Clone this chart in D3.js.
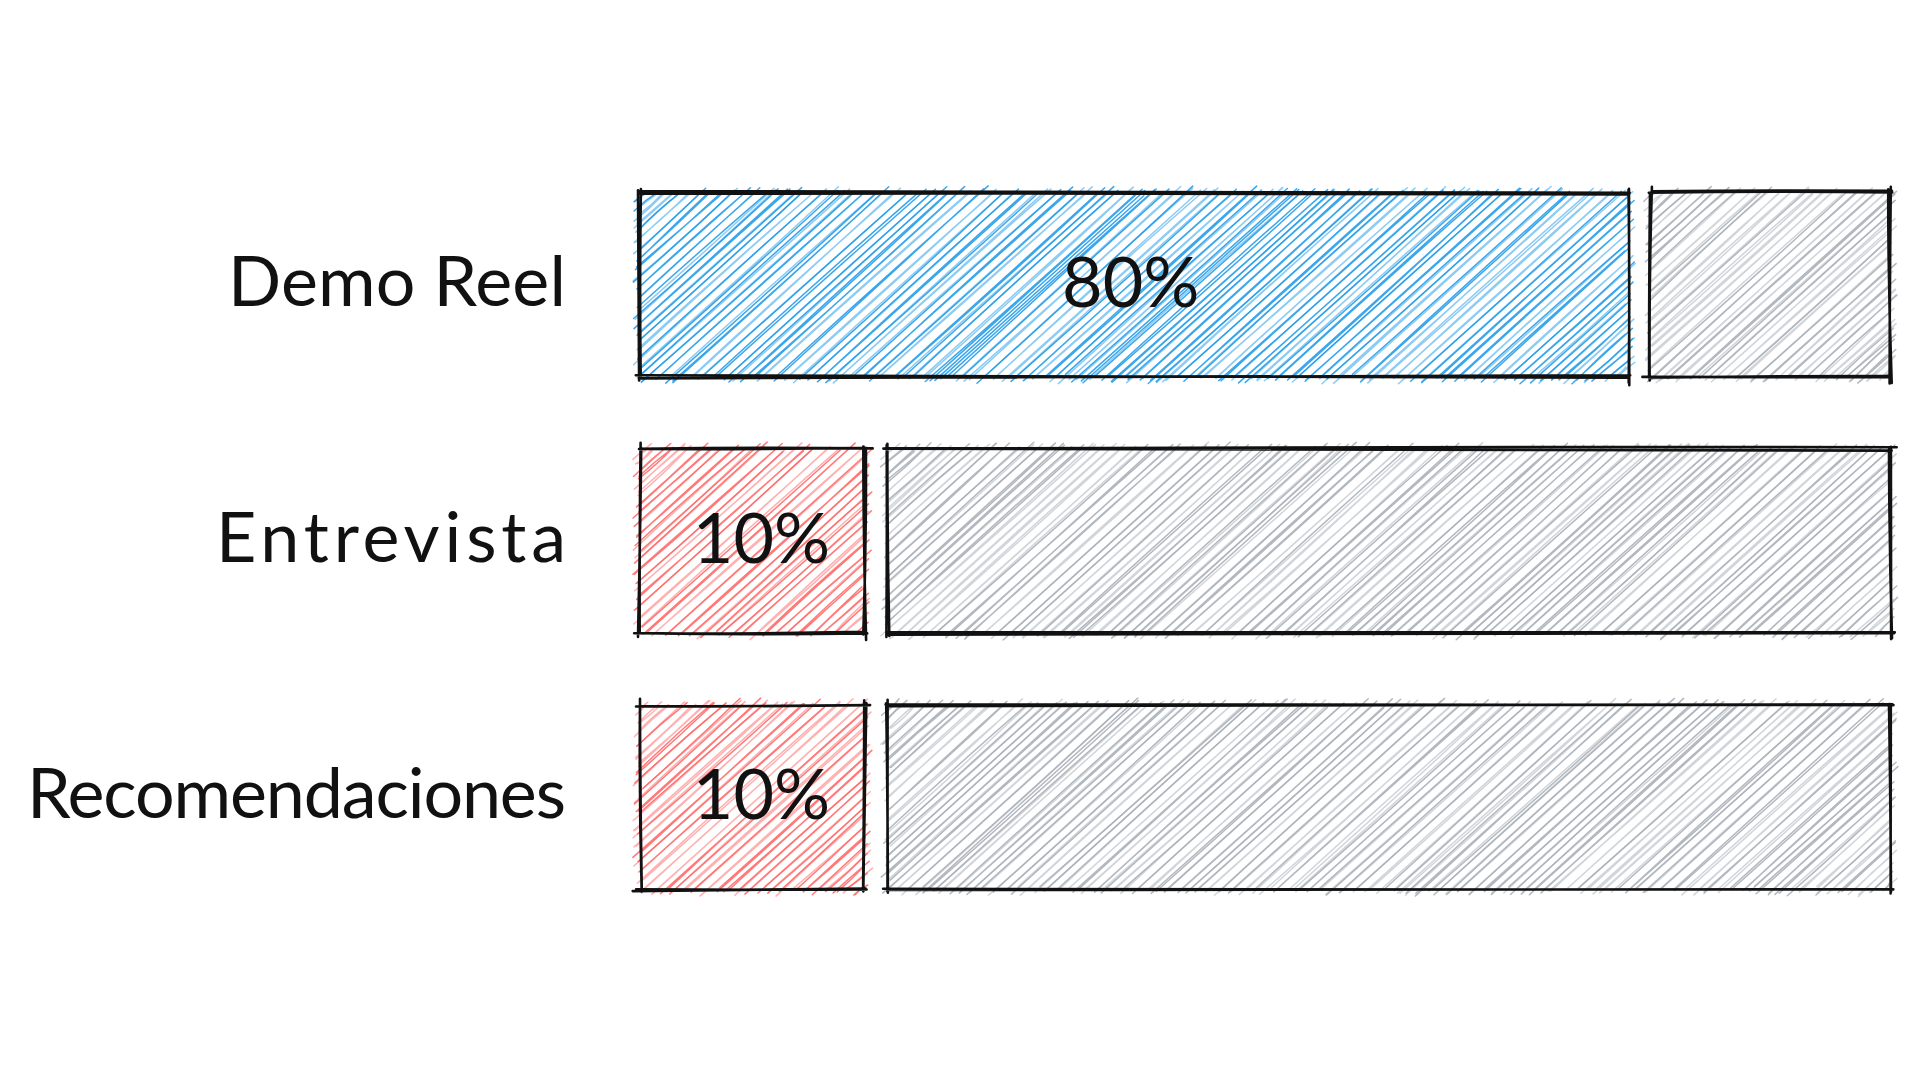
<!DOCTYPE html>
<html>
<head>
<meta charset="utf-8">
<script src="https://cdn.jsdelivr.net/npm/d3@7"></script>
<style>
  html, body { margin: 0; padding: 0; background: #ffffff; }
  svg { display: block; }
</style>
</head>
<body>
<svg id="chart" width="1920" height="1080"></svg>
<script>
// ---------- data ----------
const categories = ["Demo Reel", "Entrevista", "Recomendaciones"];
const highlightShare = [79, 18, 18];      // drawn width of coloured segment (share of 100)
const remainderShare = [21, 82, 82];      // drawn width of grey segment
const valueLabels = ["80%", "10%", "10%"];
const highlightKind = ["blue", "red", "red"];

// ---------- style ----------
const W = 1920, H = 1080;
const palette = { blue: "#1a97e8", red: "#ff6161", grey: "#a4acb4" };
const gaps = { blue: 6.4, red: 7.0, grey: 7.0 };
const labelWidths = [338, 350, 539];   // rendered text widths (layout)
const FONT = "Lato, 'Noto Sans', sans-serif";

// deterministic jitter for the hand-drawn look
function mulberry32(a) {
  return function () {
    a |= 0; a = a + 0x6D2B79F5 | 0;
    let t = Math.imul(a ^ a >>> 15, 1 | a);
    t = t + Math.imul(t ^ t >>> 7, 61 | t) ^ t;
    return ((t ^ t >>> 14) >>> 0) / 4294967296;
  };
}
const rnd = mulberry32(20240611);
const rr = (a, b) => a + (b - a) * rnd();

const svg = d3.select("#chart");

const y = d3.scaleBand()
  .domain(categories)
  .range([157, 925])
  .paddingInner(0.28)
  .paddingOuter(0.14);

const x = d3.scaleLinear().domain([0, 100]).range([640, 1890]);
const segGap = 23;

function sketchLine(x1, y1, x2, y2, j, bowAmt) {
  const ax = x1 + rr(-j, j), ay = y1 + rr(-j, j);
  const bx = x2 + rr(-j, j), by = y2 + rr(-j, j);
  const len = Math.hypot(bx - ax, by - ay) || 1;
  const nx = -(by - ay) / len, ny = (bx - ax) / len;
  const bow = rr(-bowAmt, bowAmt);
  const mx = (ax + bx) / 2 + nx * bow, my = (ay + by) / 2 + ny * bow;
  return `M${ax.toFixed(1)},${ay.toFixed(1)}Q${mx.toFixed(1)},${my.toFixed(1)} ${bx.toFixed(1)},${by.toFixed(1)}`;
}

function hachure(g, x0, y0, x1, y1, color, gap) {
  const th = 42 * Math.PI / 180;
  const d = [Math.cos(th), -Math.sin(th)];
  const n = [Math.sin(th), Math.cos(th)];
  const corners = [[x0, y0], [x1, y0], [x0, y1], [x1, y1]];
  const cs = corners.map(p => p[0] * n[0] + p[1] * n[1]);
  const cmin = d3.min(cs), cmax = d3.max(cs);
  const dark = [], light = [];
  for (let c = cmin + gap * 0.5; c < cmax; c += gap * rr(0.7, 1.3)) {
    const px = c * n[0], py = c * n[1];
    let tmin = -Infinity, tmax = Infinity;
    let ta = (x0 - px) / d[0], tb = (x1 - px) / d[0];
    tmin = Math.max(tmin, Math.min(ta, tb)); tmax = Math.min(tmax, Math.max(ta, tb));
    ta = (y0 - py) / d[1]; tb = (y1 - py) / d[1];
    tmin = Math.max(tmin, Math.min(ta, tb)); tmax = Math.min(tmax, Math.max(ta, tb));
    if (tmax - tmin < 2) continue;
    for (let k = 0; k < 2; k++) {
      const t0 = tmin - rr(-3, 9), t1 = tmax + rr(-3, 9);
      const ax = px + d[0] * t0, ay = py + d[1] * t0;
      const bx = px + d[0] * t1, by = py + d[1] * t1;
      (rnd() < 0.5 ? dark : light).push(sketchLine(ax, ay, bx, by, 1.4, 2));
    }
  }
  [[dark, 0.85], [light, 0.5]].forEach(([p, op]) => {
    g.append("path")
      .attr("d", p.join(""))
      .attr("fill", "none")
      .attr("stroke", color)
      .attr("stroke-width", 1.5)
      .attr("stroke-opacity", op)
      .attr("stroke-linecap", "round");
  });
}

function outline(g, x0, y0, x1, y1) {
  const edges = [[x0, y0, x1, y0], [x1, y0, x1, y1], [x1, y1, x0, y1], [x0, y1, x0, y0]];
  const paths = [];
  edges.forEach(e => {
    for (let k = 0; k < 2; k++) {
      const over = rr(0, 7);
      const len = Math.hypot(e[2] - e[0], e[3] - e[1]);
      const ux = (e[2] - e[0]) / len, uy = (e[3] - e[1]) / len;
      paths.push(sketchLine(e[0] - ux * rr(0, 4), e[1] - uy * rr(0, 4),
        e[2] + ux * over, e[3] + uy * over, 2.0, 2.2));
    }
  });
  g.append("path")
    .attr("d", paths.join(""))
    .attr("fill", "none")
    .attr("stroke", "#111")
    .attr("stroke-width", 2.6)
    .attr("stroke-linecap", "round");
}

function sketchRect(x0, y0, x1, y1, kind) {
  const g = svg.append("g");
  hachure(g, x0, y0, x1, y1, palette[kind], gaps[kind]);
  outline(g, x0, y0, x1, y1);
}

// bars
categories.forEach((cat, i) => {
  const top = y(cat), bot = y(cat) + y.bandwidth();
  const a0 = x(0), a1 = x(highlightShare[i]);
  const b0 = x(highlightShare[i]) + segGap, b1 = x(highlightShare[i] + remainderShare[i]);
  sketchRect(a0, top, a1, bot, highlightKind[i]);
  sketchRect(b0, top, b1, bot, "grey");
});

// category labels
const fs = 70;
svg.append("g").selectAll("text").data(categories).join("text")
  .attr("x", 566)
  .attr("y", d => y(d) + y.bandwidth() / 2 - 6)
  .attr("text-anchor", "end")
  .attr("dominant-baseline", "central")
  .attr("font-family", FONT)
  .attr("font-size", fs)
  .attr("fill", "#111")
  .attr("textLength", (d, i) => labelWidths[i])
  .attr("lengthAdjust", "spacing")
  .text(d => d);

// value labels
svg.append("g").selectAll("text").data(categories).join("text")
  .attr("x", (d, i) => (x(0) + x(highlightShare[i])) / 2 + (i === 0 ? -3 : 9))
  .attr("y", d => y(d) + y.bandwidth() / 2 - 5)
  .attr("text-anchor", "middle")
  .attr("dominant-baseline", "central")
  .attr("font-family", FONT)
  .attr("font-size", fs)
  .attr("fill", "#111")
  .text((d, i) => valueLabels[i]);
</script>
</body>
</html>
